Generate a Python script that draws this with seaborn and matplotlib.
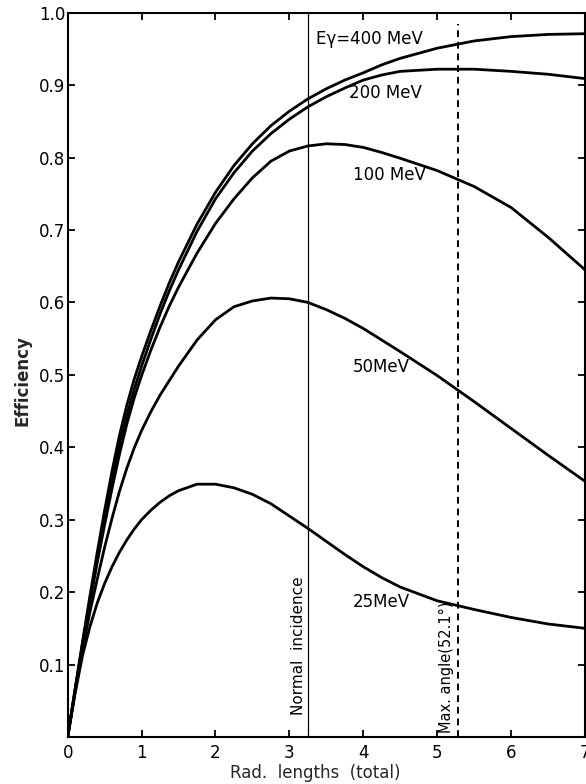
import matplotlib
matplotlib.use("Agg")
import matplotlib.pyplot as plt
import numpy as np
import pandas as pd
import seaborn as sns

# ---- data ----
x_rad = [0, 0.1, 0.2, 0.3, 0.4, 0.5, 0.6, 0.7, 0.8, 0.9, 1.0, 1.125, 1.25, 1.375, 1.5,
         1.75, 2.0, 2.25, 2.5, 2.75, 3.0, 3.25, 3.5, 3.75, 4.0, 4.25, 4.5,
         5.0, 5.5, 6.0, 6.5, 7.0]

eff_400 = [0, 0.066, 0.131, 0.194, 0.255, 0.313, 0.367, 0.416, 0.458, 0.494, 0.525, 0.561,
           0.595, 0.627, 0.656, 0.708, 0.752, 0.789, 0.819, 0.844, 0.864, 0.881, 0.895,
           0.907, 0.917, 0.928, 0.937, 0.951, 0.961, 0.967, 0.970, 0.971]
eff_200 = [0, 0.065, 0.128, 0.188, 0.246, 0.301, 0.353, 0.402, 0.444, 0.48, 0.512, 0.549,
           0.584, 0.616, 0.645, 0.698, 0.743, 0.779, 0.809, 0.833, 0.853, 0.870, 0.884,
           0.896, 0.907, 0.914, 0.919, 0.922, 0.922, 0.919, 0.915, 0.909]
eff_100 = [0, 0.064, 0.126, 0.185, 0.241, 0.293, 0.343, 0.39, 0.432, 0.468, 0.499, 0.534,
           0.566, 0.595, 0.621, 0.668, 0.709, 0.743, 0.772, 0.795, 0.809, 0.816, 0.819,
           0.818, 0.814, 0.807, 0.799, 0.782, 0.76, 0.731, 0.69, 0.645]
eff_50 = [0, 0.062, 0.12, 0.172, 0.218, 0.262, 0.302, 0.339, 0.371, 0.399, 0.423, 0.449,
          0.472, 0.492, 0.512, 0.548, 0.576, 0.594, 0.602, 0.606, 0.605, 0.600, 0.590,
          0.578, 0.564, 0.548, 0.532, 0.499, 0.463, 0.426, 0.389, 0.353]
eff_25 = [0, 0.06, 0.112, 0.152, 0.185, 0.212, 0.235, 0.255, 0.272, 0.287, 0.30, 0.313,
          0.324, 0.333, 0.340, 0.349, 0.349, 0.344, 0.335, 0.322, 0.305, 0.288, 0.270,
          0.252, 0.235, 0.220, 0.207, 0.188, 0.176, 0.165, 0.156, 0.150]

curve_labels = ["Eγ=400 MeV", "200 MeV", "100 MeV", "50MeV", "25MeV"]

normal_incidence_x = 3.25
max_angle_x = 5.28
marker_texts = ["Normal  incidence", "Max. angle(52.1°)"]

x_ticks = [0, 1, 2, 3, 4, 5, 6, 7]
x_tick_labels = ["0", "1", "2", "3", "4", "5", "6", "7"]
y_ticks = [0.1, 0.2, 0.3, 0.4, 0.5, 0.6, 0.7, 0.8, 0.9, 1.0]
y_tick_labels = ["0.1", "0.2", "0.3", "0.4", "0.5", "0.6", "0.7", "0.8", "0.9", "1.0"]

x_label = "Rad.  lengths  (total)"
y_label = "Efficiency"

# ---- build long-form table ----
frames = []
for lab, ys in zip(curve_labels, [eff_400, eff_200, eff_100, eff_50, eff_25]):
    frames.append(pd.DataFrame({"x": x_rad, "eff": ys, "curve": lab}))
df = pd.concat(frames, ignore_index=True)

sns.set_theme(style="ticks")
plt.rcParams["font.family"] = ["DejaVu Sans"]

fig = plt.figure(figsize=(5.86, 7.84), dpi=100)
ax = fig.add_axes([0.1155, 0.06, 0.8828, 0.9238])

for lab in curve_labels:
    sub = df[df["curve"] == lab]
    sns.lineplot(data=sub, x="x", y="eff", ax=ax, color="black", linewidth=2.0,
                 estimator=None, sort=False, solid_joinstyle="round",
                 solid_capstyle="round")

ax.axvline(normal_incidence_x, color="black", lw=0.9)
ax.axvline(max_angle_x, color="black", lw=1.4, ls=(0, (3.5, 2.5)), ymax=0.985)

ax.set_xlim(0, 7)
ax.set_ylim(0, 1.0)
ax.set_xticks(x_ticks)
ax.set_xticklabels(x_tick_labels)
ax.set_yticks(y_ticks)
ax.set_yticklabels(y_tick_labels)
ax.tick_params(direction="in", length=5, width=1.3, top=True, right=True,
               labelsize=12, colors="black")
ax.tick_params(axis="x", pad=5)
ax.tick_params(axis="y", pad=1.5)
for s in ax.spines.values():
    s.set_linewidth(1.5)
    s.set_color("black")

ax.set_xlabel(x_label, fontsize=12)
ax.set_ylabel(y_label, fontsize=12, fontweight="bold")
ax.xaxis.set_label_coords(0.478, -0.038)
ax.yaxis.set_label_coords(-0.069, 0.4915)

# curve labels
pos = [(3.36, 0.963), (3.81, 0.889), (3.86, 0.776), (3.86, 0.511), (3.86, 0.187)]
for (px, py), lab in zip(pos, curve_labels):
    ax.text(px, py, lab, fontsize=12, ha="left", va="center", color="black")

ax.text(3.12, 0.03, marker_texts[0], rotation=90, ha="center", va="bottom",
        fontsize=11, color="black")
ax.text(5.13, 0.006, marker_texts[1], rotation=90, ha="center", va="bottom",
        fontsize=10.5, color="black")

fig.savefig("out.png", dpi=100)
